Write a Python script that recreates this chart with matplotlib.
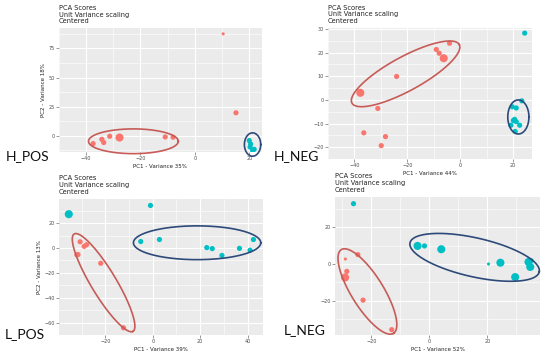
import numpy as np
import matplotlib.pyplot as plt

RED = '#F8766D'
CYAN = '#00BFC4'
RED_RING = '#C65B57'
BLUE_RING = '#2E4A7A'

# ---- H_POS ----
hpos_red_x = [10.4, 15.1, -37.4, -34.2, -33.5, -31.3, -27.7, -10.9, -8.0]
hpos_red_y = [87.4, 19.8, -6.6, -2.9, -5.7, -0.3, -1.4, -0.9, -1.1]
hpos_red_s = [1, 2, 2, 2, 2, 2, 3, 2, 2]
hpos_cyan_x = [20.0, 20.5, 20.3, 21.2, 21.8]
hpos_cyan_y = [-4.0, -7.0, -9.5, -12.5, -11.5]
hpos_cyan_s = [2, 2, 2, 2, 2]

# ---- H_NEG ----
hneg_red_x = [-4.0, -9.0, -7.9, -6.2, -24.0, -37.7, -31.1, -36.4, -28.2, -29.8]
hneg_red_y = [23.9, 21.3, 19.7, 17.6, 9.9, 3.0, -3.6, -13.9, -15.5, -19.3]
hneg_red_s = [2, 2, 2, 3, 2, 3, 2, 2, 2, 2]
hneg_cyan_x = [24.4, 23.3, 19.7, 21.2, 20.6, 20.1, 21.2, 19.2, 22.5, 20.8]
hneg_cyan_y = [28.2, -0.4, -2.9, -3.4, -8.2, -8.7, -9.2, -10.7, -10.7, -13.3]
hneg_cyan_s = [2] * 10

# ---- L_POS ----
lpos_red_x = [-30.7, -29.0, -28.0, -32.1, -31.6, -22.0, -12.4]
lpos_red_y = [5.0, 1.3, 2.6, -5.5, -5.3, -12.3, -64.2]
lpos_red_s = [2, 2, 2, 2, 2, 2, 2]
lpos_cyan_x = [-35.5, -1.0, -5.1, 2.8, 22.8, 25.1, 29.2, 36.6, 41.1, 42.5]
lpos_cyan_y = [27.2, 34.2, 5.2, 6.8, 0.3, -0.5, -6.0, -0.3, -1.8, 6.8]
lpos_cyan_s = [3, 2, 2, 2, 2, 2, 2, 2, 2, 2]

# ---- L_NEG ----
lneg_red_x = [-29.0, -24.7, -28.5, -29.1, -22.9, -13.0]
lneg_red_y = [2.7, 5.1, -4.0, -7.3, -19.6, -35.6]
lneg_red_s = [1, 2, 2, 3, 2, 2]
lneg_cyan_x = [-26.2, -4.1, -1.7, 4.1, 20.4, 24.5, 29.6, 34.2, 35.1, 34.8]
lneg_cyan_y = [32.7, 9.8, 9.8, 8.0, 0.0, 0.7, -7.1, 1.1, 1.8, -1.6]
lneg_cyan_s = [2, 3, 2, 3, 1, 3, 3, 3, 2, 3]

size_map = {1: 5, 2: 14, 3: 34}

panels = [
    dict(name='H_POS', rect=[0.107, 0.573, 0.369, 0.348],
         red=(hpos_red_x, hpos_red_y, hpos_red_s), cyan=(hpos_cyan_x, hpos_cyan_y, hpos_cyan_s),
         xlim=(-40.9, 24.6), ylim=(-13.8, 92.3),
         xt=[-40, -20, 0, 20], yt=[0, 25, 50, 75],
         xlab='PC1 - Variance 35%', ylab='PC2 - Variance 18%',
         rings=[(RED_RING, (-22.6, -4.6), (16.5, 0), (0, 10.6)),
                (BLUE_RING, (21.2, -7.4), (3.0, 0), (0, 10.0))],
         big=(6, 156)),
    dict(name='H_NEG', rect=[0.596, 0.553, 0.371, 0.368],
         red=(hneg_red_x, hneg_red_y, hneg_red_s), cyan=(hneg_cyan_x, hneg_cyan_y, hneg_cyan_s),
         xlim=(-41.8, 27.1), ylim=(-21.4, 30.3),
         xt=[-40, -20, 0, 20], yt=[-20, -10, 0, 10, 20, 30],
         xlab='PC1 - Variance 44%', ylab=None,
         rings=[(RED_RING, (-20.6, 11.0), (20.3, 12.3), (2.87, -6.42)),
                (BLUE_RING, (22.0, -7.2), (4.0, 0), (0, 7.2))],
         big=(274, 156)),
    dict(name='L_POS', rect=[0.107, 0.059, 0.371, 0.382],
         red=(lpos_red_x, lpos_red_y, lpos_red_s), cyan=(lpos_cyan_x, lpos_cyan_y, lpos_cyan_s),
         xlim=(-39.7, 46.5), ylim=(-67.1, 39.4),
         xt=[-20, 0, 20, 40], yt=[-60, -40, -20, 0, 20],
         xlab='PC1 - Variance 39%', ylab='PC2 - Variance 13%',
         rings=[(RED_RING, (-20.8, -27.9), (12.4, -39.2), (4.6, 5.0)),
                (BLUE_RING, (18.7, 4.2), (26.9, 0), (0, -13.6))],
         big=(5, 334)),
    dict(name='L_NEG', rect=[0.609, 0.059, 0.373, 0.388],
         red=(lneg_red_x, lneg_red_y, lneg_red_s), cyan=(lneg_cyan_x, lneg_cyan_y, lneg_cyan_s),
         xlim=(-32.6, 38.2), ylim=(-38.5, 36.4),
         xt=[-20, 0, 20], yt=[-20, 0, 20],
         xlab='PC1 - Variance 52%', ylab=None,
         rings=[(RED_RING, (-21.4, -14.9), (9.0, -22.7), (4.7, 4.6)),
                (BLUE_RING, (15.6, 3.6), (22.3, -7.9), (-1.46, -10.3))],
         big=(284, 330)),
]

fig = plt.figure(figsize=(5.5, 3.56), dpi=100)
t = np.linspace(0, 2 * np.pi, 200)

for p in panels:
    ax = fig.add_axes(p['rect'])
    ax.set_facecolor('#EBEBEB')
    for s in ax.spines.values():
        s.set_visible(False)
    ax.set_xlim(*p['xlim'])
    ax.set_ylim(*p['ylim'])
    ax.set_xticks(p['xt'])
    ax.set_yticks(p['yt'])
    xs = np.diff(p['xt'])[0] / 2
    ys = np.diff(p['yt'])[0] / 2
    ax.set_xticks(np.arange(p['xt'][0] - xs, p['xlim'][1], 2 * xs), minor=True)
    ax.set_yticks(np.arange(p['yt'][0] - ys, p['ylim'][1], 2 * ys), minor=True)
    ax.grid(which='major', color='white', lw=0.8)
    ax.grid(which='minor', color='white', lw=0.4)
    ax.set_axisbelow(True)
    ax.tick_params(which='major', labelsize=3.5, colors='#4D4D4D', length=2, width=0.4, pad=1)
    ax.tick_params(which='minor', length=0)

    for (xv, yv, sv), col in ((p['red'], RED), (p['cyan'], CYAN)):
        ax.scatter(xv, yv, s=[size_map[k] for k in sv], color=col, linewidths=0, zorder=3)

    for col, c, a, b in p['rings']:
        ex = c[0] + a[0] * np.cos(t) + b[0] * np.sin(t)
        ey = c[1] + a[1] * np.cos(t) + b[1] * np.sin(t)
        ax.plot(ex, ey, color=col, lw=1.2, zorder=4, clip_on=False)

    ax.text(0, 1.03, 'PCA Scores\nUnit Variance scaling\nCentered', transform=ax.transAxes,
            ha='left', va='bottom', fontsize=4.8, color='#222222', linespacing=1.15)
    ax.set_xlabel(p['xlab'], fontsize=4, color='#222222', labelpad=2)
    if p['ylab']:
        ax.set_ylabel(p['ylab'], fontsize=4, color='#222222', labelpad=2)

    bx, by = p['big']
    fig.text(bx / 550, 1 - by / 356, p['name'], fontsize=10, family='Lato',
             ha='left', va='center', color='#111111')

fig.savefig('out.png', dpi=100, facecolor='white')
